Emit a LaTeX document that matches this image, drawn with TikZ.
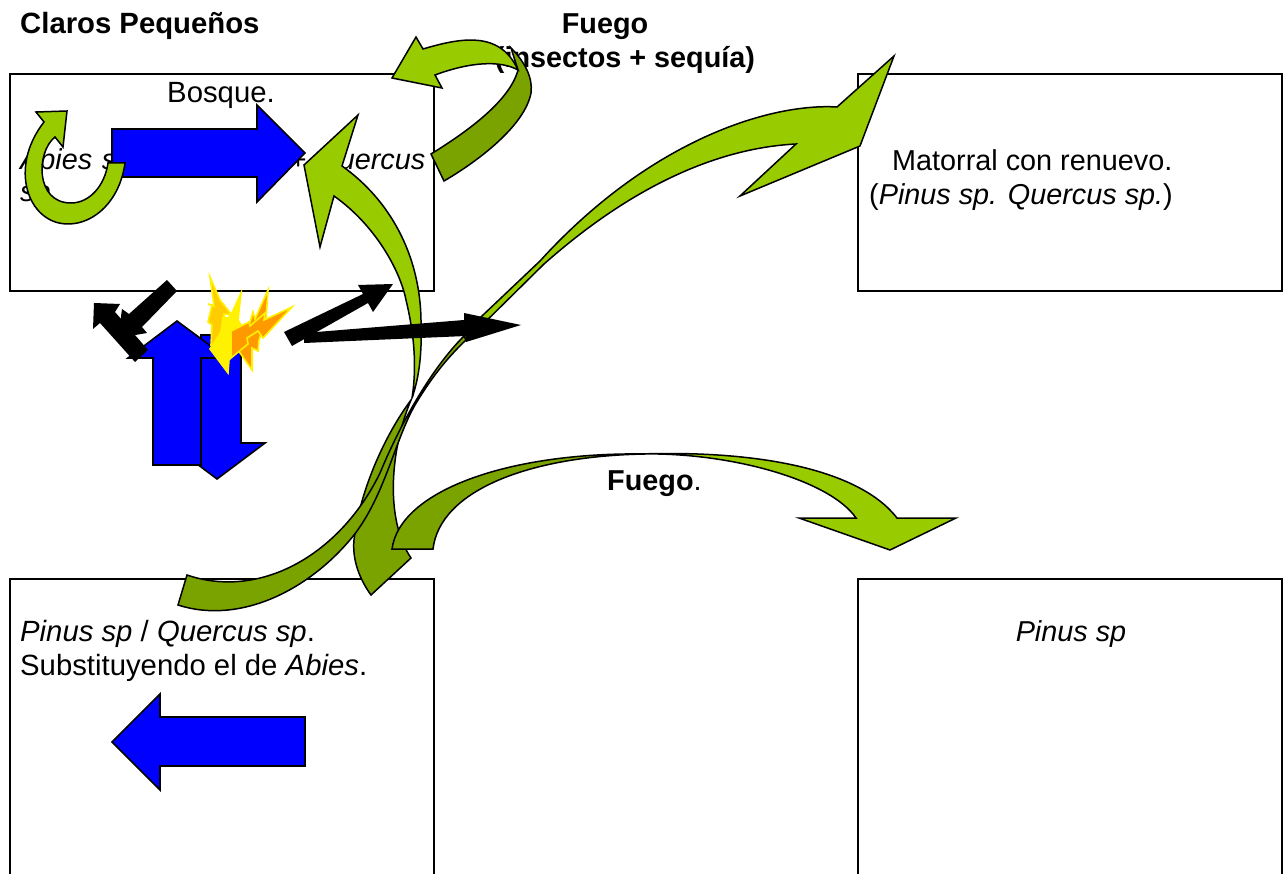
\documentclass[tikz,border=0pt]{standalone}
\usepackage{fontspec}
\setmainfont{Liberation Sans}
\usepackage{tikz}
\usetikzlibrary{arrows, positioning}
\definecolor{verdeclaro}{RGB}{153,204,0}
\definecolor{verdeoscuro}{RGB}{122,163,0}
\definecolor{naranja}{RGB}{255,153,0}
\definecolor{oro}{RGB}{255,204,0}
\tikzstyle{cuadro}=[rectangle, draw=black, line width=2pt, minimum width=424pt, minimum height=217.5pt, inner sep=0pt]
\tikzstyle{texto}=[inner sep=0pt, font=\fontsize{28.8}{34}\selectfont, align=left]
\tikzstyle{textob}=[inner sep=0pt, font=\fontsize{29.3}{34}\selectfont, align=left]
\tikzstyle{azul}=[draw=black, fill=blue, line width=1.6pt, line join=miter]
\tikzstyle{claro}=[draw=black, fill=verdeclaro, line width=1.5pt, line join=miter]
\tikzstyle{oscuro}=[draw=black, fill=verdeoscuro, line width=1.5pt, line join=miter]
\tikzstyle{negra}=[fill=black]
\tikzstyle{llama}=[draw=yellow, line width=1.6pt, line join=miter]

\begin{document}
\begin{tikzpicture}[x=1pt, y=-1pt, node distance=848pt]
      \useasboundingbox (0,0) rectangle (1283,874);

      \node[cuadro] (bosque)   at (222,182.7) {};
      \node[cuadro] (matorral) [right of=bosque] {};
      \node[cuadro, minimum height=340pt] (pinoquercus) at (222,749) {};
      \node[cuadro, minimum height=340pt] (pino)        [right of=pinoquercus] {};

      \node[textob, anchor=base west] (claros) at (20,34) {\textbf{Claros Pequeños}};
      \node[texto, anchor=base] (fuegoa)  at (605,34) {\textbf{Fuego}};
      \node[texto, anchor=base] (fuegob)  at (625,68) {\textbf{(insectos + sequía)}};

      \node[textob, anchor=base] (bosquet) at (221,103) {Bosque.};
      \node[texto, anchor=base west, text width=405pt] (abies) at (20,170) {\textit{Abies sp.}\hfill +\ \textit{Quercus}};
      \node[texto, anchor=base west] (abiesb) at (20,202) {\textit{sp.}};

      \node[texto, anchor=base west] (mata)  at (892,171) {Matorral con renuevo.};
      \node[texto, anchor=base west] (matb)  at (869,205) {(\textit{Pinus sp. Quercus sp.})};
      \node[textob, anchor=base west] (pqa)   at (20,641)  {\textit{Pinus sp} / \textit{Quercus sp}.};
      \node[textob, anchor=base west] (pqb)   at (20,675)  {Substituyendo el de \textit{Abies}.};
      \node[texto, anchor=base] (pinot) at (1071,641) {\textit{Pinus sp}};

      % flechas azules
      \draw[azul] (112,129) -- (257,129) -- (257,105) -- (305,153) -- (257,202) -- (257,177) -- (112,177) -- cycle;
      \draw[azul] (305,717) -- (160,717) -- (160,694) -- (112,742) -- (160,790) -- (160,766) -- (305,766) -- cycle;
      \draw[azul] (201,335) -- (241,335) -- (241,443) -- (265,443) -- (217,479) -- (169,443) -- (201,443) -- cycle;
      \draw[azul] (153,465) -- (153,358) -- (128,358) -- (177,321) -- (227,358) -- (201,358) -- (201,465) -- cycle;

      % vuelta pequena
      \draw[claro] (36,112) -- (67,111) -- (63,147) -- (55,137)
        .. controls (36,152) and (35,203) .. (71,203)
        .. controls (90,203) and (105,185) .. (108,163) -- (125,163)
        .. controls (120,200) and (95,224) .. (68,224)
        .. controls (28,224) and (8,168) .. (44,122) -- cycle;

      % flecha de Fuego arriba
      \draw[oscuro] (511,48) .. controls (525,62) and (533,78) .. (531,93)
        .. controls (525,125) and (480,160) .. (444,181) -- (431,154)
        .. controls (470,130) and (510,100) .. (518,70) -- cycle;
      \draw[claro] (392,78) -- (416,37) -- (423,49)
        .. controls (460,38) and (500,30) .. (518,70)
        .. controls (500,60) and (470,62) .. (435,75) -- (442,88) -- cycle;

      % flecha hacia bosque
      \draw[oscuro] (411,400) .. controls (385,435) and (360,490) .. (354,540)
        .. controls (352,560) and (360,580) .. (371,595) -- (411,558)
        .. controls (385,520) and (390,450) .. (411,400) -- cycle;
      \draw[claro] (304,165) -- (358,115) -- (342,166)
        .. controls (390,200) and (420,255) .. (421,320)
        .. controls (422,350) and (420,375) .. (412,398)
        .. controls (418,360) and (412,325) .. (406,300)
        .. controls (400,270) and (375,225) .. (334,196) -- (320,247) -- cycle;

      % flecha hacia matorral
      \draw[oscuro] (464,336) .. controls (430,370) and (400,425) .. (380,473)
        .. controls (340,555) and (260,600) .. (187,575) -- (178,605)
        .. controls (240,625) and (310,590) .. (354,535)
        .. controls (385,495) and (395,440) .. (415,405)
        .. controls (430,380) and (445,360) .. (466,340) -- cycle;
      \draw[claro] (894,56) -- (837,107)
        .. controls (770,103) and (650,140) .. (540,261) -- (463,334) -- (467,340) -- (544,264)
        .. controls (585,228) and (680,150) .. (796,144) -- (740,196) -- (860,146) -- cycle;

      % flecha de Fuego abajo
      \draw[oscuro] (392,549) .. controls (400,490) and (510,452) .. (645,454)
        .. controls (530,456) and (440,490) .. (433,549) -- cycle;
      \draw[claro] (640,454) .. controls (760,450) and (860,470) .. (897,518) -- (956,518) -- (890,550) -- (799,518) -- (856,518)
        .. controls (830,480) and (730,452) .. (640,454) -- cycle;
      \node[texto, anchor=base west] (fuegoc) at (607,490) {\textbf{Fuego}.};

      % flechas negras
      \fill[negra] (167,280) -- (177,291) -- (142,327) -- (147,333) -- (118,338) -- (122,309) -- (129,314) -- cycle;
      \fill[negra] (94,303) -- (120,304) -- (115,312) -- (148,350) -- (135,362) -- (100,323) -- (93,329) -- cycle;
      \fill[negra] (284,332) -- (363,294) -- (358,285) -- (393,284) -- (373,312) -- (368,303) -- (292,346) -- cycle;
      \fill[negra] (304,333) -- (464,320) -- (464,313) -- (521,325) -- (466,342) -- (466,336) -- (304,343) -- cycle;

      % llamas
      \draw[llama, fill=oro] (210,277) -- (220,300) -- (232,315) -- (224,314) -- (226,340) -- (211,345) -- (212,325) -- (208,322) -- (212,305) -- (208,304) -- (214,306) -- cycle;
      \draw[llama, fill=naranja] (268,290) -- (266,320) -- (259,340) -- (258,351) -- (252,348) -- (252,370) -- (238,350) -- (245,325) -- (250,322) -- (253,312) -- (255,319) -- cycle;
      \draw[llama, fill=yellow] (228,373) -- (210,349) -- (221,332) -- (223,317) -- (228,318) -- (231,315) -- (241,293) -- (238,320) -- (241,325) -- (234,353) -- (229,360) -- cycle;
      \draw[llama, fill=naranja] (292,307) -- (263,338) -- (258,331) -- (247,338) -- (248,344) -- (231,358) -- (231,331) -- (249,322) -- (250,326) -- (265,313) -- (264,320) -- cycle;
\end{tikzpicture}
\end{document}
